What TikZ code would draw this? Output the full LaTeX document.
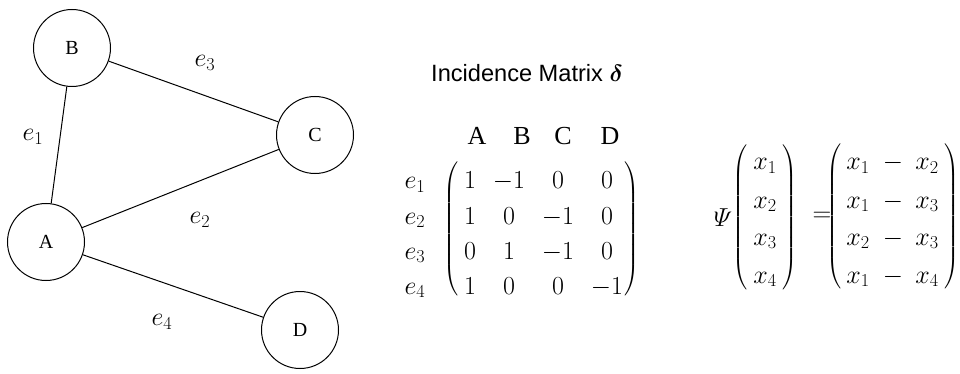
\RequirePackage{fix-cm}
\documentclass[tikz,border=0pt]{standalone}
\usepackage{amsmath}
\usepackage{fontspec}
\setmainfont{Liberation Serif}
\newfontfamily\titlesans{Liberation Sans}

\tikzset{
  vertex/.style={circle, draw, line width=1pt, minimum size=77pt, inner sep=0pt,
                 font=\fontsize{20}{24}\selectfont},
  edge/.style={line width=1pt},
  big/.style={font=\fontsize{26}{30}\selectfont, inner sep=0pt},
  cell/.style={big, anchor=base},
  delim/.style={font=\fontsize{18}{22}\selectfont, inner sep=0pt},
}

\newcommand{\lparen}[1]{$\left(\vrule height #1 depth #1 width 0pt\right.$}
\newcommand{\rparen}[1]{$\left.\vrule height #1 depth #1 width 0pt\right)$}

\begin{document}
\begin{tikzpicture}[x=1pt, y=-1pt]
\useasboundingbox (0,0) rectangle (960,374);

% graph
\node[vertex] (B) at (72,48)   {B};
\node[vertex] (C) at (315,135) {C};
\node[vertex] (A) at (46,242)  {A};
\node[vertex] (D) at (300,330) {D};

\draw[edge] (B) -- (A);
\draw[edge] (B) -- (C);
\draw[edge] (A) -- (C);
\draw[edge] (A) -- (D);

\node[big] (l1) at (33,137)  {$e_1$};
\node[big] (l3) at (205,63)  {$e_3$};
\node[big] (l2) at (200,220) {$e_2$};
\node[big] (l4) at (162,322) {$e_4$};

% incidence matrix
\node[font=\titlesans\fontsize{23.6}{28}\selectfont, inner sep=0pt] (title) at (527,73)
  {Incidence Matrix $\boldsymbol{\delta}$};

\foreach \name/\x in {A/477, B/522, C/563, D/610}
  \node[cell] (h\name) at (\x,145) {\name};

\foreach \r/\y in {1/189, 2/224, 3/259, 4/294}
  \node[cell] (e\r) at (415,\y) {$e_\r$};

\foreach \r/\y/\a/\b/\c/\d in {1/189/1/-1/0/0, 2/224/1/0/-1/0, 3/259/0/1/-1/0, 4/294/1/0/0/-1}{
  \node[cell] (m\r a) at (470,\y) {$\a$};
  \node[cell] (m\r b) at (509,\y) {$\b$};
  \node[cell] (m\r c) at (558,\y) {$\c$};
  \node[cell] (m\r d) at (607,\y) {$\d$};
}
\node[delim] (mL) at (452,229) {\lparen{62pt}};
\node[delim] (mR) at (631,229) {\rparen{62pt}};

% Psi applied to x
\node[big] (psi) at (723,218) {$\varPsi$};
\node[delim] (vL) at (741,218) {\lparen{70pt}};
\node[delim] (vR) at (789,218) {\rparen{70pt}};
\foreach \i/\y in {1/170, 2/208, 3/245, 4/283}
  \node[cell] (x\i) at (765,\y) {$x_\i$};

\node[big] (eq) at (822,217) {$=$};

\node[delim] (rL) at (835,217) {\lparen{70pt}};
\node[delim] (rR) at (951,217) {\rparen{70pt}};
\foreach \r/\y/\p/\q in {1/170/1/2, 2/208/1/3, 3/245/2/3, 4/283/1/4}{
  \node[cell] (d\r a) at (858,\y) {$x_\p$};
  \node[cell] (d\r m) at (893,\y) {$-$};
  \node[cell] (d\r b) at (927,\y) {$x_\q$};
}
\end{tikzpicture}
\end{document}
